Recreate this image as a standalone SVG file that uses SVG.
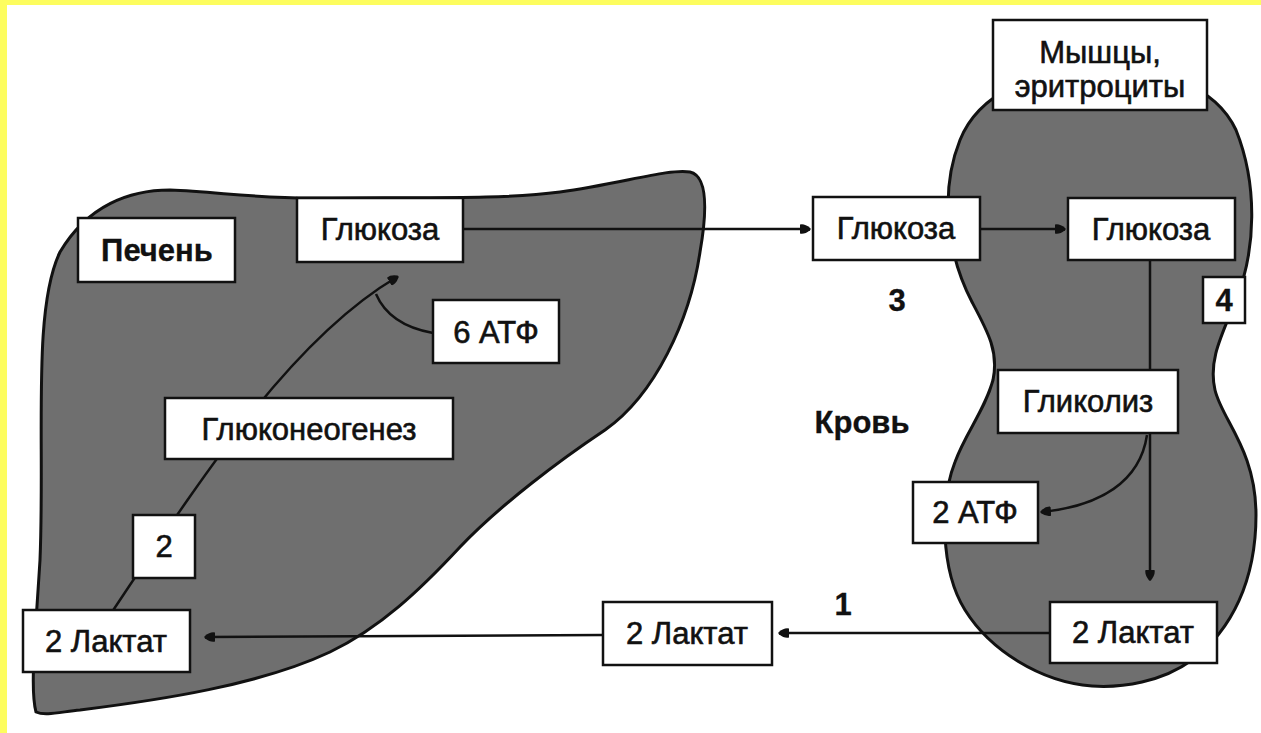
<svg xmlns="http://www.w3.org/2000/svg" width="1261" height="733" viewBox="0 0 1261 733">
  <defs>
    <style>
      .organ { fill: #6f6f6f; stroke: #111; stroke-width: 3; }
      .box { fill: #fff; stroke: #111; stroke-width: 2.5; }
      .lbl { font-family: "Liberation Sans", Arial, sans-serif; font-size: 31px; fill: #111; stroke: #111; stroke-width: 0.6; text-anchor: middle; }
      .bold { font-weight: bold; stroke-width: 0.3; }
      .link { fill: none; stroke: #111; stroke-width: 2.5; }
    </style>
    <marker id="head" viewBox="0 0 10 10" refX="8" refY="5" markerWidth="4.5" markerHeight="4.5" orient="auto" markerUnits="strokeWidth">
      <path d="M0,1 Q4,0 9,4 Q10,5 9,6 Q4,10 0,9 Z" fill="#111"/>
    </marker>
  </defs>

  <!-- page frame -->
  <rect x="0" y="0" width="1261" height="733" fill="#fff"/>
  <rect x="0" y="0" width="1261" height="5" fill="#fdfd5e"/>
  <rect x="0" y="0" width="7" height="733" fill="#fdfd5e"/>

  <!-- liver outline -->
  <path class="organ" d="M36,712 C30,690 35,640 40,560 C45,440 32,310 60,252 C88,205 130,190 170,190 C220,192 260,199 320,198 C420,197 500,200 560,192 C620,184 670,168 690,172 C708,176 707,212 700,252 C690,320 655,395 605,430 C560,460 500,505 460,547 C420,590 380,628 330,652 C260,685 160,700 80,710 C60,712 45,716 36,712 Z"/>

  <!-- muscle / erythrocyte outline -->
  <path class="organ" d="M1100,68 C1160,68 1215,85 1236,130 C1258,185 1256,250 1236,300 C1222,335 1208,360 1215,390 C1222,420 1256,450 1256,515 C1256,580 1232,630 1192,660 C1162,682 1122,688 1092,686 C1040,682 990,650 965,610 C940,570 940,500 955,462 C966,432 985,410 993,380 C999,352 988,332 972,302 C946,252 940,190 960,140 C978,95 1032,68 1100,68 Z"/>

  <!-- connectors -->
  <g id="connectors">
    <line class="link" x1="463" y1="229" x2="809" y2="229" marker-end="url(#head)"/>
    <line class="link" x1="980" y1="229" x2="1064" y2="229" marker-end="url(#head)"/>
    <line class="link" x1="1150" y1="260" x2="1150" y2="579" marker-end="url(#head)"/>
    <path class="link" d="M1147,435 C1140,482 1100,506 1042,512" marker-end="url(#head)"/>
    <line class="link" x1="1050" y1="633" x2="780" y2="633" marker-end="url(#head)"/>
    <line class="link" x1="603" y1="635" x2="206" y2="637" marker-end="url(#head)"/>
    <path class="link" d="M112,612 C200,480 290,340 397,277" marker-end="url(#head)"/>
    <path class="link" d="M433,333 C405,328 385,315 376,294"/>
  </g>

  <!-- liver nodes -->
  <g id="liver-label">
    <rect class="box" x="78" y="218" width="157" height="64"/>
    <text class="lbl bold" x="157" y="261">Печень</text>
  </g>
  <g id="liver-glucose">
    <rect class="box" x="297" y="198" width="166" height="64"/>
    <text class="lbl" x="380" y="240">Глюкоза</text>
  </g>
  <g id="liver-atp">
    <rect class="box" x="433" y="300" width="126" height="63"/>
    <text class="lbl" x="496" y="343">6 АТФ</text>
  </g>
  <g id="gluconeogenesis">
    <rect class="box" x="165" y="398" width="288" height="61"/>
    <text class="lbl" x="309" y="440">Глюконеогенез</text>
  </g>
  <g id="step-2">
    <rect class="box" x="133" y="515" width="62" height="63"/>
    <text class="lbl" x="164" y="557">2</text>
  </g>
  <g id="liver-lactate">
    <rect class="box" x="23" y="610" width="167" height="62"/>
    <text class="lbl" x="106" y="652">2 Лактат</text>
  </g>

  <!-- blood nodes -->
  <g id="blood-label">
    <text class="lbl bold" x="862" y="433">Кровь</text>
  </g>
  <g id="step-3">
    <text class="lbl bold" x="897" y="311">3</text>
  </g>
  <g id="step-1">
    <text class="lbl bold" x="843" y="615">1</text>
  </g>
  <g id="blood-glucose">
    <rect class="box" x="813" y="197" width="167" height="63"/>
    <text class="lbl" x="896" y="239">Глюкоза</text>
  </g>
  <g id="blood-lactate">
    <rect class="box" x="603" y="602" width="169" height="63"/>
    <text class="lbl" x="687" y="644">2 Лактат</text>
  </g>

  <!-- muscle / erythrocyte nodes -->
  <g id="muscle-label">
    <rect class="box" x="993" y="20" width="214" height="90"/>
    <text class="lbl" x="1100" y="63">Мышцы,</text>
    <text class="lbl" x="1100" y="97">эритроциты</text>
  </g>
  <g id="muscle-glucose">
    <rect class="box" x="1068" y="198" width="167" height="62"/>
    <text class="lbl" x="1151" y="240">Глюкоза</text>
  </g>
  <g id="step-4">
    <rect class="box" x="1203" y="277" width="42" height="46"/>
    <text class="lbl bold" x="1224" y="311">4</text>
  </g>
  <g id="glycolysis">
    <rect class="box" x="998" y="370" width="180" height="63"/>
    <text class="lbl" x="1088" y="412">Гликолиз</text>
  </g>
  <g id="muscle-atp">
    <rect class="box" x="913" y="482" width="125" height="61"/>
    <text class="lbl" x="975" y="523">2 АТФ</text>
  </g>
  <g id="muscle-lactate">
    <rect class="box" x="1050" y="602" width="167" height="61"/>
    <text class="lbl" x="1133" y="643">2 Лактат</text>
  </g>
</svg>
